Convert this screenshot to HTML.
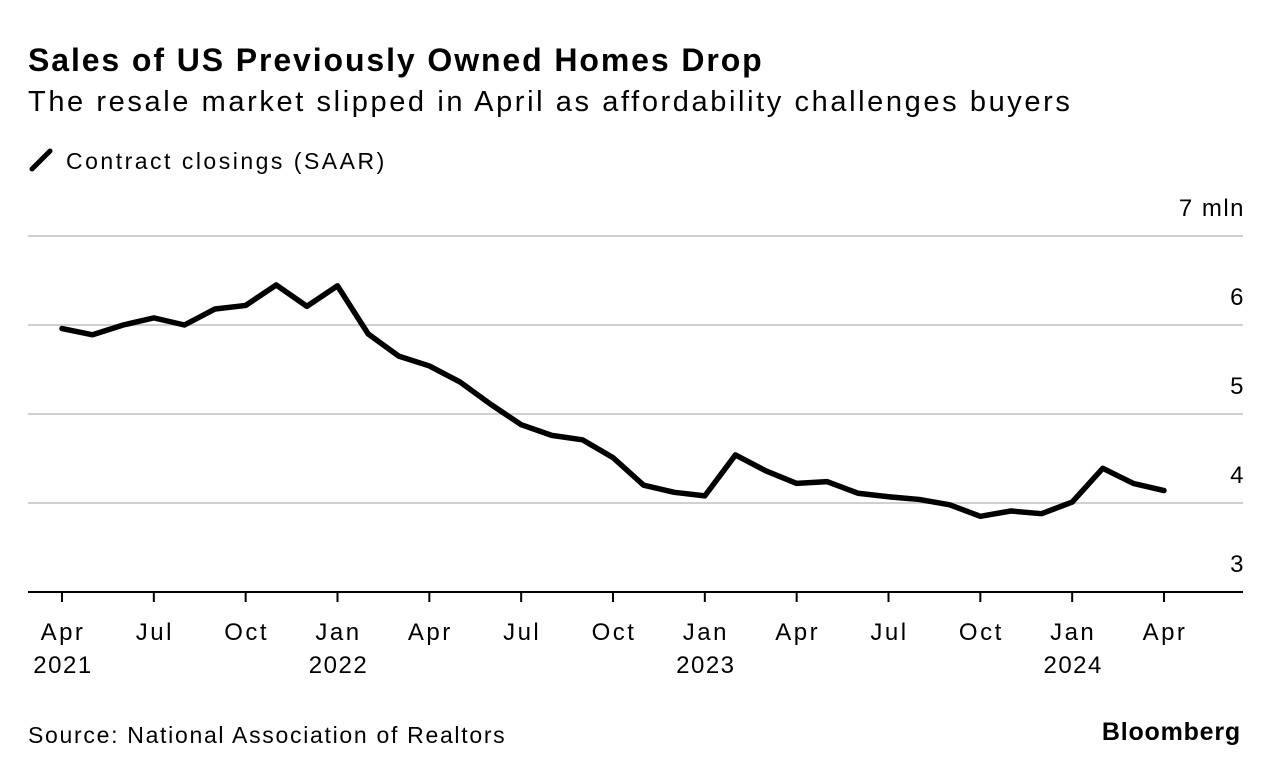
<!DOCTYPE html>
<html><head><meta charset="utf-8">
<style>
body{margin:0;background:#fff;font-family:"Liberation Sans",sans-serif;color:#000;}
#wrap{position:relative;width:1279px;height:776px;overflow:hidden;}
.t{position:absolute;white-space:nowrap;}
</style></head>
<body>
<div id="wrap">
<div class="t" style="left:28px;top:42px;font-size:32px;font-weight:bold;letter-spacing:1.9px;">Sales of US Previously Owned Homes Drop</div>
<div class="t" style="left:28px;top:86px;font-size:29px;letter-spacing:2.6px;">The resale market slipped in April as affordability challenges buyers</div>
<div class="t" style="left:28px;top:147px;font-size:23px;"><svg width="26" height="26" style="vertical-align:-4px;margin-right:12px"><line x1="4" y1="22" x2="22" y2="4" stroke="#000" stroke-width="5" stroke-linecap="round"/></svg><span style="letter-spacing:2.5px">Contract closings (SAAR)</span></div>
<svg id="chart" width="1279" height="776" style="position:absolute;left:0;top:0"></svg>
<div class="t" style="left:28px;top:722px;font-size:23px;letter-spacing:1.7px;">Source: National Association of Realtors</div>
<div class="t" style="right:38px;top:718px;font-size:25px;font-weight:bold;letter-spacing:0.8px;">Bloomberg</div>
</div>
<script>
const values=[5.96,5.89,6.0,6.08,6.0,6.18,6.22,6.45,6.21,6.44,5.9,5.65,5.54,5.36,5.11,4.88,4.76,4.71,4.51,4.20,4.12,4.08,4.54,4.36,4.22,4.24,4.11,4.07,4.04,3.98,3.85,3.91,3.88,4.01,4.39,4.22,4.14];
const yTicks=[3,4,5,6,7];
const yTickLabels=["3","4","5","6","7 mln"];
const xTickMonths=[0,3,6,9,12,15,18,21,24,27,30,33,36];
const xTickLabels=["Apr","Jul","Oct","Jan","Apr","Jul","Oct","Jan","Apr","Jul","Oct","Jan","Apr"];
const xTickYears={0:"2021",9:"2022",21:"2023",33:"2024"};
const svg=document.getElementById('chart');
const NS="http://www.w3.org/2000/svg";
const x=i=>62+i*(1164-62)/36;
const y=v=>592-(v-3)*89;
function mk(t,a){const e=document.createElementNS(NS,t);for(const k in a)e.setAttribute(k,a[k]);svg.appendChild(e);return e;}
yTicks.forEach((v,i)=>{
  const g=mk('line',{x1:28,x2:1243,y1:y(v),y2:y(v),stroke:v===3?'#000':'#d0d0d0','stroke-width':2});
  
  
  const t=mk('text',{x:1245,y:y(v)-20,'text-anchor':'end','font-size':24,'letter-spacing':'1.5','font-family':'Liberation Sans'});
  t.textContent=yTickLabels[i];
  
  
});
xTickMonths.forEach((m,i)=>{
  const tk=mk('line',{x1:x(m),x2:x(m),y1:592,y2:602,stroke:'#000','stroke-width':2});
  
  
  const t=mk('text',{x:x(m)+1,y:640,'text-anchor':'middle','font-size':24,'letter-spacing':'2.5','font-family':'Liberation Sans'});
  t.textContent=xTickLabels[i];
  
  
  if(xTickYears[m]){
    const yt=mk('text',{x:x(m)+1,y:673,'text-anchor':'middle','font-size':24,'letter-spacing':'1.5','font-family':'Liberation Sans'});
    yt.textContent=xTickYears[m];
    
    
  }
});
const p=mk('polyline',{points:values.map((v,i)=>x(i)+','+y(v)).join(' '),fill:'none',stroke:'#000','stroke-width':5.5,'stroke-linejoin':'round','stroke-linecap':'round'});


</script>
</body></html>
